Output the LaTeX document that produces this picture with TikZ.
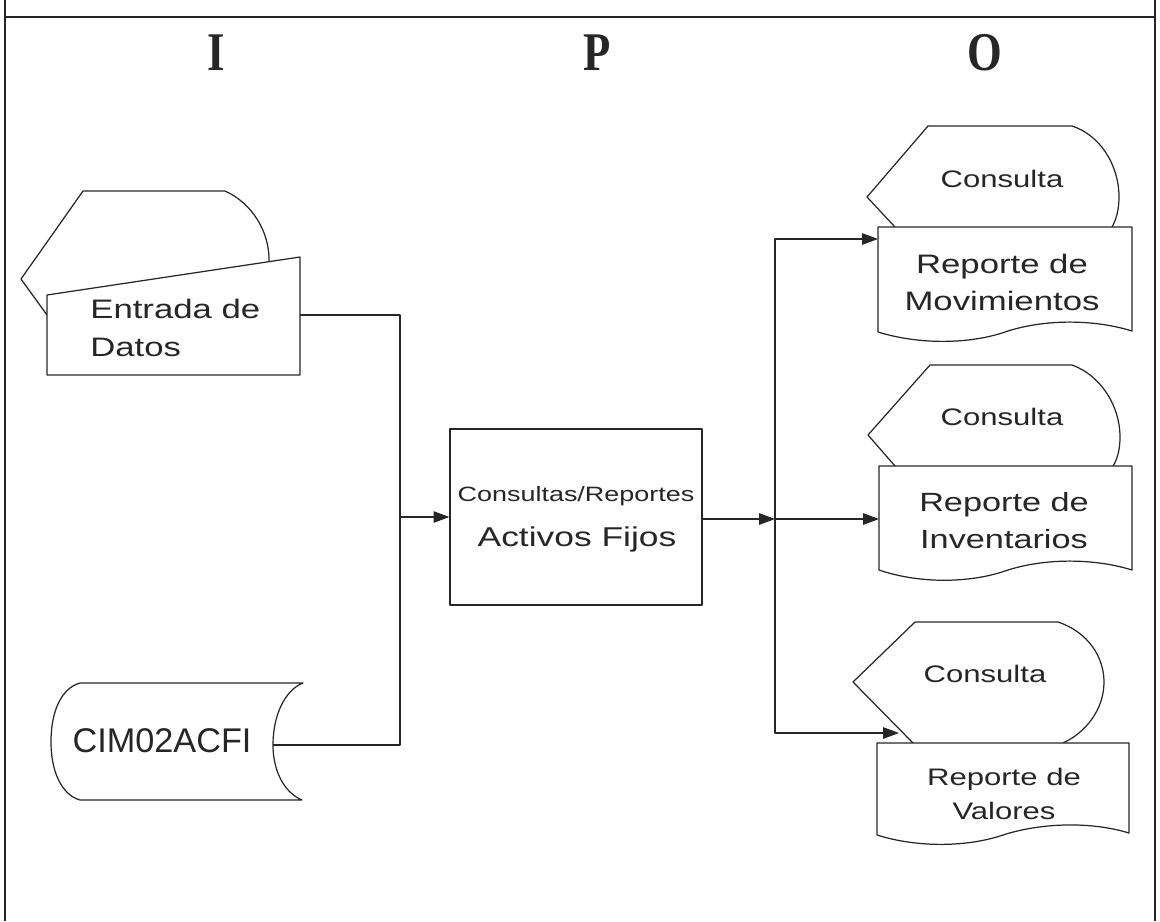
\documentclass[tikz,border=0pt]{standalone}
\usepackage{fontspec}
\setmainfont{Liberation Sans}
\newfontfamily\widesf{Liberation Sans}[FakeStretch=1.3]
\newfontfamily\ipofont{Liberation Serif}[FakeStretch=0.82]
\usetikzlibrary{arrows.meta}
\definecolor{ink}{RGB}{38,38,38}

\begin{document}
\begin{tikzpicture}[x=0.02cm, y=-0.02cm, line join=round,
    frame/.style={draw=ink, line width=0.9pt},
    shp/.style={draw=ink, line width=0.7pt, fill=white},
    dsp/.style={draw=ink, line width=0.7pt},
    conn/.style={draw=ink, line width=0.6pt},
    arr/.style={conn, -{Triangle[length=9pt,width=6.5pt]}},
    ipo/.style={anchor=base, text=ink, inner sep=0pt,
                font=\ipofont\bfseries\fontsize{31}{31}\selectfont},
    lbl/.style={anchor=base, text=ink, inner sep=0pt, align=center}]

    \useasboundingbox (0,0) rectangle (1160,921);
    \draw[frame] (5,0) -- (5,921) (1155,0) -- (1155,921) (5,17) -- (1155,17);

    \node[ipo] (colI) at (216,70) {I};
    \node[ipo] (colP) at (597,70) {P};
    \node[ipo] (colO) at (985,70) {O};

    % input
    \draw[dsp] (47,315) -- (21,279) -- (83,191) -- (225,191)
        .. controls (252,203) and (270,232) .. (269,262);
    \draw[shp] (47,295) -- (300,257) -- (300,375) -- (47,375) -- cycle;
    \node[lbl, anchor=base west, align=left,
          font=\widesf\fontsize{15.2}{21.5}\selectfont] (entTxt) at (90,356) {Entrada de\\Datos};
    \coordinate (entOut) at (300,315);

    \draw[shp] (80,683) -- (303,683) .. controls (285,690) and (273,715) .. (273,745)
        .. controls (273,772) and (285,793) .. (302,800) -- (80,800)
        .. controls (62,795) and (51,772) .. (51,742)
        .. controls (51,710) and (62,688) .. (80,683) -- cycle;
    \node[lbl, font=\fontsize{19.5}{22}\selectfont] (cimTxt) at (162,752) {CIM02ACFI};
    \coordinate (cimOut) at (273,745);

    % process
    \node[shp, inner sep=0pt, minimum width=5.04cm, minimum height=3.52cm] (proc) at (576,517) {};
    \node[lbl, font=\widesf\fontsize{11.8}{14}\selectfont] (procTop) at (576,501) {Consultas/Reportes};
    \node[lbl, font=\widesf\fontsize{15.5}{18}\selectfont] (procBot) at (577,546) {Activos Fijos};

    % output
    \draw[dsp] (895,227) -- (867,197) -- (928,126) -- (1072,126)
        .. controls (1100,135) and (1119,165) .. (1119,197)
        .. controls (1119,210) and (1116,220) .. (1112,227);
    \node[lbl, font=\widesf\fontsize{13.6}{16}\selectfont] (movCon) at (1002,187) {Consulta};
    \draw[shp] (878,227) -- (1132,227) -- (1132,331)
        .. controls (1090,318) and (1040,320) .. (1005,332)
        .. controls (970,344) and (920,345) .. (878,332) -- cycle;
    \node[lbl, font=\widesf\fontsize{15.2}{21}\selectfont] (movTxt) at (1002,310) {Reporte de\\Movimientos};
    \coordinate (movIn) at (878,239);

    \draw[dsp] (895,466) -- (868,435) -- (930,365) -- (1072,365)
        .. controls (1100,375) and (1120,405) .. (1120,437)
        .. controls (1120,450) and (1117,460) .. (1113,466);
    \node[lbl, font=\widesf\fontsize{13.6}{16}\selectfont] (invCon) at (1002,425) {Consulta};
    \draw[shp] (879,466) -- (1132,466) -- (1132,570)
        .. controls (1090,557) and (1040,559) .. (1005,571)
        .. controls (970,583) and (920,584) .. (879,570) -- cycle;
    \node[lbl, font=\widesf\fontsize{15}{21}\selectfont] (invTxt) at (1004,548) {Reporte de\\Inventarios};
    \coordinate (invIn) at (879,519);

    \draw[dsp] (913,743) -- (853,682) -- (915,622) -- (1058,622)
        .. controls (1088,632) and (1104,657) .. (1104,682)
        .. controls (1104,710) and (1085,733) .. (1063,743);
    \node[lbl, font=\widesf\fontsize{13.6}{16}\selectfont] (valCon) at (985,682) {Consulta};
    \draw[shp] (877,743) -- (1129,743) -- (1129,833)
        .. controls (1090,821) and (1040,823) .. (1003,835)
        .. controls (968,847) and (918,848) .. (877,835) -- cycle;
    \node[lbl, font=\widesf\fontsize{13.6}{19.3}\selectfont] (valTxt) at (1004,819) {Reporte de\\Valores};
    \coordinate (valIn) at (899,733);

    % connectors
    \coordinate (joinL) at (400,517);
    \coordinate (joinR) at (775,519);
    \draw[conn] (entOut) -| (joinL);
    \draw[conn] (cimOut) -| (joinL);
    \draw[arr] (joinL) -- (proc.west);
    \draw[arr] (proc.east |- joinR) -- (joinR);
    \draw[arr] (joinR) -- (invIn);
    \draw[arr] (joinR) |- (movIn);
    \draw[arr] (joinR) |- (valIn);
\end{tikzpicture}
\end{document}
